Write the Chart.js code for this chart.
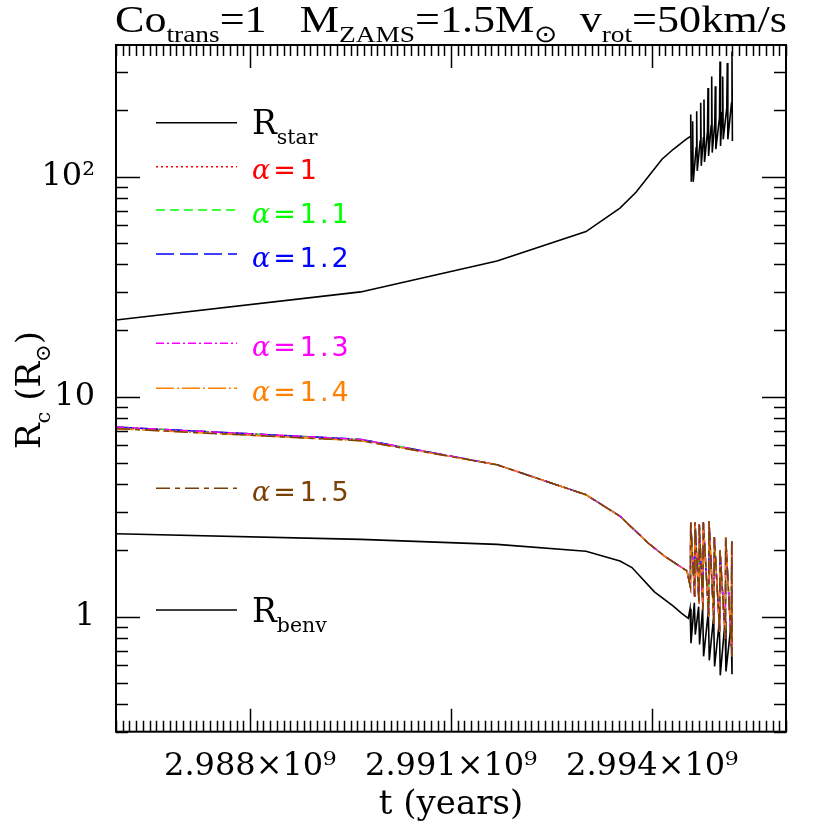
<!DOCTYPE html>
<html>
<head>
<meta charset="utf-8">
<script src="https://cdn.jsdelivr.net/npm/chart.js@4.4.1/dist/chart.umd.min.js"></script>
<style>
  html, body { margin: 0; padding: 0; background: #fff; }
  canvas { display: block; }
</style>
</head>
<body>
<canvas id="mychart" width="830" height="830"></canvas>
<script>
// t in years, radii in solar radii
const rStarT = [2.986000e9, 2.989652e9, 2.991687e9, 2.993015e9, 2.993522e9, 2.993761e9, 2.994149e9, 2.994318e9, 2.994507e9,
  2.994570e9, 2.994578e9, 2.994586e9,
  2.994599e9, 2.994607e9, 2.994615e9,
  2.994659e9, 2.994667e9, 2.994675e9,
  2.994719e9, 2.994727e9, 2.994735e9,
  2.994768e9, 2.994776e9, 2.994784e9,
  2.994828e9, 2.994836e9, 2.994844e9,
  2.994883e9, 2.994891e9, 2.994899e9,
  2.994937e9, 2.994945e9, 2.994953e9,
  2.995007e9, 2.995015e9, 2.995023e9,
  2.995047e9, 2.995055e9, 2.995063e9,
  2.995116e9, 2.995124e9, 2.995132e9,
  2.995186e9, 2.995194e9, 2.995200e9];
const rStarR = [22.3, 29.9, 41.3, 56.2, 71.8, 84.8, 119.9, 133, 147.5,
  152, 191.4, 94.6,
  130, 178.5, 94.6,
  135, 198.2, 106.1,
  145, 216.2, 111.8,
  150, 223.7, 116.5,
  160, 252.7, 124.0,
  170, 285.1, 128.5,
  175, 257.0, 133.0,
  185, 333.3, 137.6,
  195, 285.1, 147.6,
  205, 327.8, 147.6,
  215, 369.8, 145.0];

const rBenvT = [2.986000e9, 2.989652e9, 2.991687e9, 2.993015e9, 2.993522e9, 2.993701e9, 2.994036e9, 2.994313e9, 2.994443e9, 2.994542e9,
  2.994568e9, 2.994582e9,
  2.994632e9, 2.994646e9,
  2.994696e9, 2.994710e9,
  2.994756e9, 2.994770e9,
  2.994841e9, 2.994855e9,
  2.994920e9, 2.994934e9,
  2.995005e9, 2.995019e9,
  2.995090e9, 2.995104e9,
  2.995180e9, 2.995194e9];
const rBenvR = [2.379, 2.244, 2.131, 1.981, 1.791, 1.671, 1.297, 1.118, 1.035, 0.982,
  1.087, 0.757,
  1.157, 0.829,
  1.110, 0.747,
  1.087, 0.660,
  1.053, 0.633,
  1.000, 0.594,
  0.949, 0.541,
  0.949, 0.564,
  0.920, 0.547];

const rcT = [2.986000e9, 2.989652e9, 2.991687e9, 2.993015e9, 2.993522e9, 2.993955e9, 2.994203e9, 2.994522e9,
  2.994573e9, 2.994578e9,
  2.994637e9, 2.994642e9,
  2.994701e9, 2.994706e9,
  2.994761e9, 2.994766e9,
  2.994846e9, 2.994851e9,
  2.994925e9, 2.994930e9,
  2.995010e9, 2.995015e9,
  2.995095e9, 2.995100e9,
  2.995185e9, 2.995190e9,
  2.995196e9];
const rcTail = [4.90, 3.58, 2.86, 2.144, 1.867, 1.614,
  1.366, 2.687,
  1.231, 2.687,
  1.145, 2.624,
  1.076, 2.687,
  1.000, 2.715,
  0.930, 2.299,
  0.855, 2.002,
  0.796, 2.299,
  0.732, 2.198,
  0.660];
const rcAlphaLow = [7.27, 6.39, ...rcTail];   // alpha = 1 ... 1.3
const rcAlphaHigh = [7.15, 6.30, ...rcTail];  // alpha = 1.4, 1.5

const alphas = ['1', '1.1', '1.2', '1.3', '1.4', '1.5'];
const alphaColors = ['#ff0000', '#00ff00', '#0000ff', '#ff00ff', '#ff8000', '#7a4106'];
const alphaDash = [[2, 3], [9, 5], [18, 6], [8, 3, 2, 3], [18, 3, 2, 3], [14, 5, 5, 5]];
const legendY = [166.7, 210, 254, 343.3, 388.3, 488.3];

const xTicks = [2.988e9, 2.991e9, 2.994e9];
const yTicks = [1, 10, 100];

const serif = 'DejaVu Serif';

function pts(ts, vs) {
  return ts.map((t, i) => ({ x: t, y: vs[i] }));
}

function drawRich(ctx, parts, x, y, size, family, opt) {
  opt = opt || {};
  const sub = size * 0.62, drop = size * (opt.drop || 0.3);
  let w = 0;
  const ws = parts.map(([s, k]) => {
    ctx.font = (k ? sub : size) + 'px "' + family + '"';
    const m = ctx.measureText(s).width;
    w += m;
    return m;
  });
  const sx = opt.fit ? opt.fit / w : 1;
  ctx.save();
  ctx.translate(x, y);
  if (opt.rotate) ctx.rotate(opt.rotate);
  ctx.scale(sx, 1);
  ctx.textBaseline = 'alphabetic';
  ctx.textAlign = 'left';
  let cx = opt.center ? -w / 2 : 0;
  parts.forEach(([s, k], i) => {
    ctx.font = (k ? sub : size) + 'px "' + family + '"';
    ctx.fillText(s, cx, k ? drop : 0);
    cx += ws[i];
  });
  ctx.restore();
}

const decor = {
  id: 'decor',
  beforeDatasetsDraw(chart) {
    const { ctx, chartArea: a, scales: { x, y } } = chart;
    ctx.save();
    ctx.strokeStyle = '#000';
    ctx.lineWidth = 1.5;
    ctx.beginPath();
    for (let i = 0; i <= 100; i++) {
      const px = Math.round(x.getPixelForValue(2.986e9 + i * 1e5)) + 0.5;
      const len = (i % 30 === 20) ? 23 : 11;
      ctx.moveTo(px, a.top); ctx.lineTo(px, a.top + len);
      ctx.moveTo(px, a.bottom); ctx.lineTo(px, a.bottom - len);
    }
    [0.1, 1, 10, 100].forEach(d => {
      for (let m = 1; m <= 9; m++) {
        const v = m * d;
        if (v < y.min || v > y.max) continue;
        const py = Math.round(y.getPixelForValue(v)) + 0.5;
        const len = m === 1 ? 24 : 12;
        ctx.moveTo(a.left, py); ctx.lineTo(a.left + len, py);
        ctx.moveTo(a.right, py); ctx.lineTo(a.right - len, py);
      }
    });
    ctx.stroke();
    ctx.restore();
  },
  afterDraw(chart) {
    const { ctx, chartArea: a } = chart;
    ctx.save();
    ctx.strokeStyle = '#000';
    ctx.lineWidth = 2;
    ctx.strokeRect(a.left, a.top, a.right - a.left, a.bottom - a.top);

    ctx.fillStyle = '#000';
    // title
    drawRich(ctx, [['Co', 0], ['trans', 1], ['=1   M', 0], ['ZAMS', 1], ['=1.5M', 0], ['\u2299', 1],
      ['  v', 0], ['rot', 1], ['=50km/s', 0]], 115, 32, 38, 'Liberation Serif', { fit: 672, drop: 0.26 });
    // axis titles
    drawRich(ctx, [['t (years)', 0]], (a.left + a.right) / 2, 814, 34, serif, { center: true });
    drawRich(ctx, [['R', 0], ['c', 1], [' (R', 0], ['\u2299', 1], [')', 0]], 40, 390, 34, serif,
      { center: true, rotate: -Math.PI / 2 });

    // legend
    const x0 = 156, x1 = 237, tx = 252;
    const sample = (yy, color, dash) => {
      ctx.save();
      ctx.strokeStyle = color;
      ctx.lineWidth = 1.6;
      ctx.setLineDash(dash);
      ctx.beginPath();
      ctx.moveTo(x0, yy); ctx.lineTo(x1, yy);
      ctx.stroke();
      ctx.restore();
    };
    sample(122.7, '#000', []);
    ctx.fillStyle = '#000';
    drawRich(ctx, [['R', 0], ['star', 1]], tx, 134, 33, serif, { drop: 0.3 });
    sample(610, '#000', []);
    drawRich(ctx, [['R', 0], ['benv', 1]], tx, 622, 33, serif, { drop: 0.3 });

    alphas.forEach((al, i) => {
      const yy = legendY[i];
      sample(yy, alphaColors[i], alphaDash[i]);
      ctx.fillStyle = alphaColors[i];
      ctx.textBaseline = 'alphabetic';
      ctx.textAlign = 'left';
      let cx = tx;
      ctx.font = 'italic 27px "DejaVu Serif"';
      ctx.fillText('\u03b1', cx, yy + 12.5);
      cx += ctx.measureText('\u03b1').width + 3;
      ctx.font = '27px "DejaVu Sans"';
      ctx.fillText('=', cx, yy + 12.5);
      cx += ctx.measureText('=').width + 4;
      ctx.letterSpacing = '3px';
      ctx.fillText(al, cx, yy + 12.5);
      ctx.letterSpacing = '0px';
    });
    ctx.restore();
  }
};

const datasets = [
  { data: pts(rStarT, rStarR), borderColor: '#000', borderWidth: 1.6, order: 10 },
  { data: pts(rBenvT, rBenvR), borderColor: '#000', borderWidth: 1.6, order: 10 }
];
alphas.forEach((al, i) => {
  datasets.push({
    data: pts(rcT, i < 4 ? rcAlphaLow : rcAlphaHigh),
    borderColor: alphaColors[i],
    borderDash: alphaDash[i],
    borderWidth: 1.5,
    order: 6 - i
  });
});
datasets.forEach(d => { d.pointRadius = 0; d.tension = 0; d.fill = false; });

let massChart = new Chart(document.getElementById('mychart'), {
  type: 'line',
  data: { datasets: datasets },
  options: {
    responsive: false,
    animation: false,
    layout: { padding: { top: 45, right: 44, left: 0, bottom: 0 } },
    plugins: { legend: { display: false }, tooltip: { enabled: false } },
    scales: {
      x: {
        type: 'linear',
        min: 2.986e9,
        max: 2.996e9,
        grid: { display: false, drawTicks: false },
        border: { display: false },
        afterBuildTicks: s => { s.ticks = xTicks.map(v => ({ value: v })); },
        afterFit: s => { s.height = 98.3; },
        ticks: {
          autoSkip: false,
          maxRotation: 0,
          padding: 16,
          color: '#000',
          font: { family: serif, size: 32 },
          callback: v => (v / 1e9).toFixed(3) + '\u00d710\u2079'
        }
      },
      y: {
        type: 'logarithmic',
        min: 0.313,
        max: 396,
        grid: { display: false, drawTicks: false },
        border: { display: false },
        afterBuildTicks: s => { s.ticks = yTicks.map(v => ({ value: v })); },
        afterFit: s => { s.width = 116; },
        ticks: {
          padding: 21,
          color: '#000',
          font: { family: serif, size: 32 },
          callback: v => v === 100 ? '10\u00b2' : String(v)
        }
      }
    }
  },
  plugins: [decor]
});
</script>
</body>
</html>
